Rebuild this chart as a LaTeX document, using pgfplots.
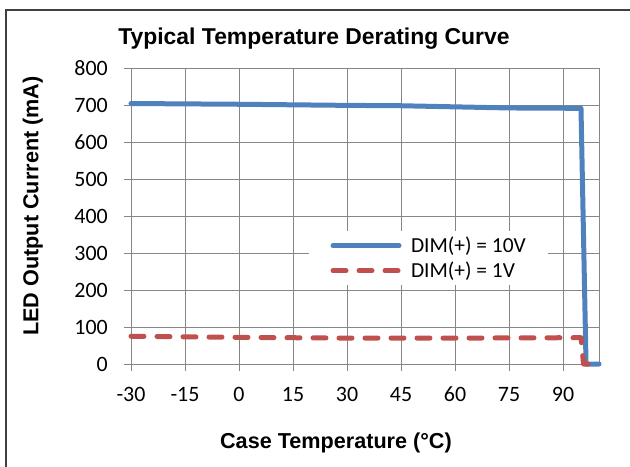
\documentclass[border=0pt]{standalone}
\usepackage{fontspec}
\setmainfont{Carlito}[Numbers=Lining]
\newfontfamily\headfont{Liberation Sans}
\usepackage{pgfplots}
\pgfplotsset{compat=1.18}

\definecolor{serblue}{HTML}{4F81BD}
\definecolor{serred}{HTML}{C0504D}
\definecolor{gridgray}{HTML}{868686}

\begin{document}
\begin{tikzpicture}
% page = 630 x 467 bp, plot area lower left at (131,103)
\path[use as bounding box] (-131bp,-103bp) rectangle (499bp,364bp);
\draw[black!75, line width=1.5bp] (-125bp,-103bp) -- (-125bp,354bp) -- (499bp,354bp);
\begin{axis}[
    scale only axis,
    width=468bp, height=296bp,
    xmin=-30, xmax=100, ymin=0, ymax=800,
    xtick={-30,-15,...,90},
    ytick={0,100,...,800},
    grid=major,
    major grid style={gridgray, line width=0.75bp},
    axis line style={gridgray, line width=0.75bp},
    tick style={gridgray, line width=0.75bp},
    tick align=outside, tick pos=left,
    major tick length=7bp,
    /pgf/number format/assume math mode=true,
    ticklabel style={font=\fontsize{22}{26}\selectfont, inner sep=0pt},
    xticklabel style={anchor=north, text height=14bp, text depth=0pt, yshift=-16bp},
    yticklabel style={anchor=east, xshift=-16bp},
    clip=false,
    title={Typical Temperature Derating Curve},
    title style={font=\headfont\bfseries\fontsize{23}{27}\selectfont,
        at={(axis description cs:0.391,1.0608)}, anchor=base, inner sep=0pt},
    xlabel={Case Temperature (°C)},
    xlabel style={font=\headfont\bfseries\fontsize{21.7}{26}\selectfont,
        at={(axis description cs:0.438,-0.2848)}, anchor=base, inner sep=0pt},
    ylabel={LED Output Current (mA)},
    ylabel style={font=\headfont\bfseries\fontsize{21.7}{26}\selectfont,
        at={(axis description cs:-0.198,0.5338)}, anchor=base, inner sep=0pt},
    legend cell align=left,
    legend image code/.code={\draw[#1] (0bp,0bp) -- (66bp,0bp);},
    legend style={
        at={(axis description cs:0.3793,0.4486)}, anchor=north west,
        fill=white, draw=none, outer sep=0pt,
        inner xsep=22bp, inner ysep=2bp,
        column sep=9.5bp, row sep=0pt,
        font=\fontsize{21.5}{25}\selectfont,
        nodes={inner sep=0pt, text height=19.5bp, text depth=5.5bp},
    },
]
\addplot[serblue, line width=5bp, line cap=round, line join=round] coordinates {
    (-30,704) (0,702) (30,699) (45,698) (60,695) (75,692) (95,691)
    (96.4,0) (100,0)
};
\addlegendentry{DIM(+) = 10V}
\addplot[serred, line width=5bp, line cap=round, line join=round,
    dash pattern=on 13bp off 13bp] coordinates {
    (-30,75) (0,72) (30,70) (60,70) (90,71) (95,71)
    (95.7,0) (98,0)
};
\addlegendentry{DIM(+) = 1V}
\end{axis}
\end{tikzpicture}
\end{document}
